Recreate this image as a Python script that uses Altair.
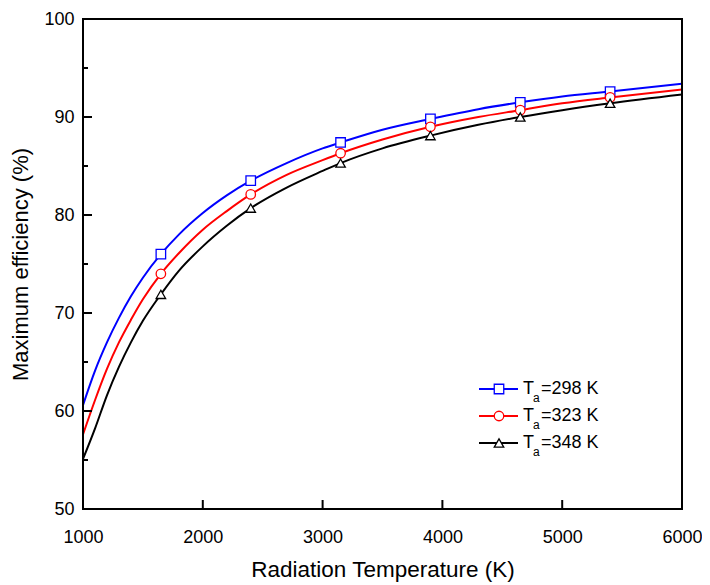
import altair as alt
import pandas as pd

# ---- data ----
T_curve = [1000, 1100, 1200, 1300, 1400, 1500, 1650, 1800, 2000, 2200, 2400,
           2700, 3000, 3150, 3500, 3900, 4300, 4650, 5000, 5400, 6000]
eff_298 = [60.6, 64.1, 67.0, 69.5, 71.7, 73.6, 76.0, 78.0, 80.2, 82.0, 83.5,
           85.3, 86.8, 87.4, 88.7, 89.8, 90.8, 91.5, 92.1, 92.6, 93.4]
eff_323 = [57.6, 61.1, 64.3, 67.0, 69.3, 71.4, 74.0, 76.1, 78.5, 80.4, 82.1,
           84.1, 85.6, 86.3, 87.7, 89.0, 90.0, 90.7, 91.4, 92.0, 92.8]
eff_348 = [55.1, 58.2, 61.6, 64.5, 67.0, 69.2, 71.9, 74.3, 76.8, 78.9, 80.7,
           82.8, 84.5, 85.3, 86.8, 88.1, 89.2, 90.0, 90.7, 91.4, 92.3]
T_markers = [1650, 2400, 3150, 3900, 4650, 5400]
ambient = ["298", "323", "348"]
colors = ["#0000ff", "#ff0000", "#000000"]
shapes = ["square", "circle", "triangle-up"]
x_ticks = [1000, 2000, 3000, 4000, 5000, 6000]
y_ticks = [50, 60, 70, 80, 90, 100]
y_minor = [55, 65, 75, 85, 95]

W, H = 599, 490
FONT = "Liberation Sans"

rows = []
for ta, vals in zip(ambient, [eff_298, eff_323, eff_348]):
    for t, v in zip(T_curve, vals):
        rows.append({"T": t, "eff": v, "series": ta})
df = pd.DataFrame(rows)
df_mark = df[df["T"].isin(T_markers)]

xs = alt.Scale(domain=[1000, 6000], nice=False, zero=False)
ys = alt.Scale(domain=[50, 100], nice=False, zero=False)
cs = alt.Scale(domain=ambient, range=colors)
ss = alt.Scale(domain=ambient, range=shapes)

x_enc = alt.X("T:Q", scale=xs, title="Radiation Temperature (K)",
              axis=alt.Axis(values=x_ticks, ticks=False, domain=False, grid=False,
                            labelFontSize=18, titleFontSize=22.5, labelPadding=19,
                            titlePadding=12, labelFont=FONT, titleFont=FONT,
                            labelColor="black", titleColor="black", labelFlush=False,
                            titleFontWeight="normal", format="d"))
y_enc = alt.Y("eff:Q", scale=ys, title="Maximum efficiency (%)",
              axis=alt.Axis(values=y_ticks, ticks=False, domain=False, grid=False,
                            labelFontSize=18, titleFontSize=22, labelPadding=9,
                            titlePadding=11, labelFont=FONT, titleFont=FONT,
                            labelColor="black", titleColor="black", labelFlush=False,
                            titleFontWeight="normal"))

lines = alt.Chart(df).mark_line(strokeWidth=2, interpolate="monotone", clip=True).encode(
    x=x_enc, y=y_enc,
    stroke=alt.Stroke("series:N", scale=cs, legend=None),
    detail="series:N",
)
points = alt.Chart(df_mark).mark_point(filled=False, fill="white", opacity=1,
                                        strokeWidth=1.3, size=90).encode(
    x=alt.X("T:Q", scale=xs), y=alt.Y("eff:Q", scale=ys),
    stroke=alt.Stroke("series:N", scale=cs, legend=None),
    shape=alt.Shape("series:N", scale=ss, legend=None),
)

# frame
frame = alt.Chart(pd.DataFrame({"f": [0]})).mark_rect(
    fill="transparent", stroke="black", strokeWidth=2).encode(
    x=alt.value(0), x2=alt.value(W), y=alt.value(0), y2=alt.value(H))

# inward ticks
ytk = alt.Chart(pd.DataFrame({"v": y_ticks})).mark_rule(color="black", strokeWidth=2).encode(
    y=alt.Y("v:Q", scale=ys), x=alt.value(0), x2=alt.value(9))
ytm = alt.Chart(pd.DataFrame({"v": y_minor})).mark_rule(color="black", strokeWidth=2).encode(
    y=alt.Y("v:Q", scale=ys), x=alt.value(0), x2=alt.value(5))
xtk = alt.Chart(pd.DataFrame({"v": x_ticks})).mark_rule(color="black", strokeWidth=2).encode(
    x=alt.X("v:Q", scale=xs), y=alt.value(H), y2=alt.value(H - 9))

# custom legend
leg = pd.DataFrame({"series": ambient, "label": ["=" + a + " K" for a in ambient]})
leg_layers = []
for i, a in enumerate(ambient):
    d = leg[leg["series"] == a]
    yy = 370 + 27 * i
    leg_layers.append(alt.Chart(d).mark_rule(strokeWidth=2).encode(
        x=alt.value(396), x2=alt.value(435), y=alt.value(yy),
        stroke=alt.Stroke("series:N", scale=cs, legend=None)))
    leg_layers.append(alt.Chart(d).mark_point(filled=False, fill="white", opacity=1,
                                               strokeWidth=1.3, size=90).encode(
        x=alt.value(416), y=alt.value(yy),
        stroke=alt.Stroke("series:N", scale=cs, legend=None),
        shape=alt.Shape("series:N", scale=ss, legend=None)))
    leg_layers.append(alt.Chart(d).mark_text(text="T", align="left", baseline="middle",
                                              fontSize=18, font=FONT, color="black").encode(
        x=alt.value(440), y=alt.value(yy)))
    leg_layers.append(alt.Chart(d).mark_text(text="a", align="left", baseline="middle",
                                              fontSize=12, font=FONT, color="black").encode(
        x=alt.value(450), y=alt.value(yy + 9)))
    leg_layers.append(alt.Chart(d).mark_text(align="left", baseline="middle",
                                              fontSize=18, font=FONT, color="black").encode(
        x=alt.value(458), y=alt.value(yy), text="label:N"))

chart = alt.layer(lines, points, frame, ytk, ytm, xtk, *leg_layers).properties(
    width=W, height=H,
    autosize="none",
    padding={"left": 75, "top": 11, "right": 20, "bottom": 80},
).configure_view(stroke=None).configure(background="white")

chart.save("out.html", embed_options={"renderer": "svg", "actions": False})
